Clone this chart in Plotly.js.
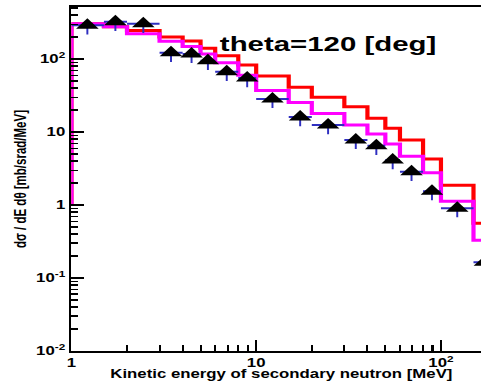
<!DOCTYPE html>
<html>
<head>
<meta charset="utf-8">
<script src="https://cdn.plot.ly/plotly-3.0.1.min.js"></script>
<style>
  html, body { margin: 0; padding: 0; background: #fff; overflow: hidden; width: 481px; height: 381px; }
  #chart { width: 360px; height: 381px; transform: scaleX(1.4); transform-origin: 0 0; }
</style>
</head>
<body>
<div id="chart"></div>
<script>
// Bin edges of the histograms [MeV]
const binEdges = [1, 1.5, 2, 3, 4, 5, 6, 8, 10, 15, 20, 30, 40, 50, 60, 80, 100, 150, 200];
// Histogram contents per bin (red and magenta calculations)
const redValues = [305, 278, 247, 202, 178, 141, 111, 83.5, 59, 41.2, 30, 22.3, 15.5, 11.3, 7.8, 4.27, 1.87, 0.563];
const magentaValues = [305, 278, 223, 176, 149, 118, 89, 60, 37.3, 25.4, 18, 12.5, 9.4, 6.9, 4.66, 2.77, 1.13, 0.33];
const histBase = 1;
// Experimental points (black triangles)
const expEnergy = [1.22, 1.73, 2.45, 3.46, 4.47, 5.48, 6.93, 8.94, 12.25, 17.3, 24.5, 34.6, 44.7, 54.8, 69.3, 89.4, 122.5, 173];
const expValues = [291, 325, 305, 122, 118, 95, 67, 55, 28.5, 16.1, 12.5, 7.8, 6.5, 4.14, 2.86, 1.55, 0.906, 0.164];
const expErrUpPct = 12;
const expErrDownPct = 25;
// Tick labels
const yTickVals = [0.01, 0.1, 1, 10, 100];
const yTickText = ['10<sup>-2</sup>', '10<sup>-1</sup>', '1', '10', '10<sup>2</sup>'];
const xTickVals = [1, 10, 100];
const xTickText = ['1', '10', '10<sup>2</sup>'];

function stepXY(edges, vals) {
  const x = [edges[0]], y = [histBase];
  for (let i = 0; i < vals.length; i++) { x.push(edges[i]); y.push(vals[i]); }
  x.push(edges[edges.length - 1]); y.push(vals[vals.length - 1]);
  return {x, y};
}
const red = stepXY(binEdges, redValues);
const mag = stepXY(binEdges, magentaValues);
const errPlus = expEnergy.map((e, i) => binEdges[i + 1] - e);
const errMinus = expEnergy.map((e, i) => e - binEdges[i]);

const bold = {family: 'Liberation Sans, Arial, sans-serif', weight: 'bold', color: '#000'};

const traces = [
  {x: red.x, y: red.y, mode: 'lines', line: {color: '#ff0000', width: 3, shape: 'hv'}, hoverinfo: 'skip'},
  {x: mag.x, y: mag.y, mode: 'lines', line: {color: '#ff00ff', width: 3, shape: 'hv'}, hoverinfo: 'skip'},
  {x: expEnergy, y: expValues, mode: 'markers',
   marker: {symbol: 'triangle-up', size: 14, color: '#000'},
   error_x: {type: 'data', symmetric: false, array: errPlus, arrayminus: errMinus, color: '#2f2fc0', thickness: 2, width: 0},
   error_y: {type: 'percent', symmetric: false, value: expErrUpPct, valueminus: expErrDownPct, color: '#2f2fc0', thickness: 1.4, width: 0}}
];

const axisCommon = {
  type: 'log', showgrid: false, zeroline: false, showline: true, linecolor: '#000', linewidth: 2,
  mirror: true, ticks: 'inside', tickcolor: '#000', tickwidth: 1.5, tickmode: 'array'
};

const layout = {
  width: 360, height: 381,
  margin: {l: 51, r: 9, t: 7, b: 30},
  paper_bgcolor: '#fff', plot_bgcolor: '#fff',
  showlegend: false,
  xaxis: Object.assign({}, axisCommon, {
    range: [0, 2.273], tickvals: xTickVals, ticktext: xTickText, ticklen: 11,
    minor: {ticks: 'inside', ticklen: 6, tickwidth: 1.5, tickcolor: '#000', dtick: 'D1'},
    tickfont: Object.assign({size: 12}, bold),
    title: {text: 'Kinetic energy of secondary neutron [MeV]', font: Object.assign({size: 12}, bold), standoff: 1}
  }),
  yaxis: Object.assign({}, axisCommon, {
    range: [-2, 2.715], tickvals: yTickVals, ticktext: yTickText, ticklen: 9,
    minor: {ticks: 'inside', ticklen: 4.5, tickwidth: 1.5, tickcolor: '#000', dtick: 'D1'},
    tickfont: Object.assign({size: 12}, bold),
    title: {text: 'dσ / dE dθ [mb/srad/MeV]', font: Object.assign({size: 11.5}, bold), standoff: 4}
  }),
  annotations: [{
    text: 'theta=120 [deg]', xref: 'paper', yref: 'paper', x: 0.61, y: 0.895,
    xanchor: 'center', yanchor: 'middle', showarrow: false,
    font: Object.assign({size: 21}, bold)
  }]
};

Plotly.newPlot('chart', traces, layout, {displayModeBar: false, staticPlot: true});
</script>
</body>
</html>
